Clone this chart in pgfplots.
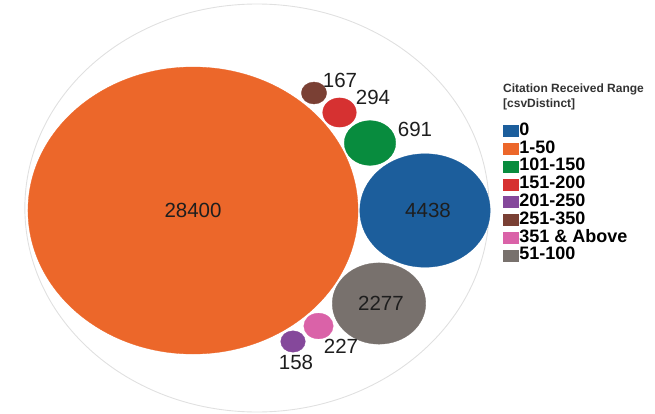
\documentclass[border=0pt]{standalone}
\usepackage{fontspec}
\setmainfont{Liberation Sans}
\usepackage{pgfplots}
\usepackage{pgfplotstable}
\pgfplotsset{compat=1.18}

\definecolor{c0}{HTML}{1C5E9C}
\definecolor{c1}{HTML}{EC672A}
\definecolor{c101}{HTML}{088C3E}
\definecolor{c151}{HTML}{D63131}
\definecolor{c201}{HTML}{85489B}
\definecolor{c251}{HTML}{7A4034}
\definecolor{c351}{HTML}{DA62A8}
\definecolor{c51}{HTML}{78716D}
\definecolor{ring}{HTML}{E0E0E0}
\definecolor{titlegray}{HTML}{333333}
\definecolor{labelgray}{HTML}{1E1E1E}

% one table per category: bubble centre (x,y), count v,
% label offset (dx,dy) in pt from the centre
\pgfplotstableread[row sep=\\]{x y v dx dy\\ 425 202.5 4438 3 0\\}\tZero
\pgfplotstableread[row sep=\\]{x y v dx dy\\ 193 202.5 28400 0 0\\}\tOne
\pgfplotstableread[row sep=\\]{x y v dx dy\\ 370 270 691 45 14\\}\tHundredOne
\pgfplotstableread[row sep=\\]{x y v dx dy\\ 339.5 300.5 294 33.5 15.5\\}\tHundredFiftyOne
\pgfplotstableread[row sep=\\]{x y v dx dy\\ 293 71.5 158 3 -20.5\\}\tTwoHundredOne
\pgfplotstableread[row sep=\\]{x y v dx dy\\ 314 320 167 26 13\\}\tTwoFiftyOne
\pgfplotstableread[row sep=\\]{x y v dx dy\\ 318.5 87 227 22.5 -20\\}\tThreeFiftyOne
\pgfplotstableread[row sep=\\]{x y v dx dy\\ 379 109.5 2277 2 0\\}\tFiftyOne

\pgfplotsset{
  % bubble area proportional to the count
  bubble/.style={
    scatter, only marks, mark=*,
    point meta=\thisrow{v},
    scatter/use mapped color={draw=#1, fill=#1},
    visualization depends on={sqrt(\thisrow{v})*0.8515 \as \rad},
    scatter/@pre marker code/.append style={/tikz/mark size=\rad},
    mark options={xscale=1.15, line width=0.3pt},
    legend image code/.code={\fill[#1] (0pt,-5pt) rectangle (15pt,6pt);},
  },
  % count printed at the bubble, shifted by (dx,dy)
  bubblelabel/.style={
    scatter, only marks, mark=|, mark size=0pt, forget plot,
    mark options={line cap=butt},
    point meta=\thisrow{v},
    visualization depends on={\thisrow{dx} \as \dx},
    visualization depends on={\thisrow{dy} \as \dy},
    nodes near coords={\pgfmathprintnumber[assume math mode=true, fixed, precision=0, 1000 sep={}]{\pgfplotspointmeta}},
    nodes near coords style={anchor=center, inner sep=0pt, xshift=\dx pt, yshift=\dy pt,
      text=labelgray, font=\fontsize{20.5}{24}\selectfont},
  },
}

\begin{document}
\begin{tikzpicture}
\useasboundingbox (0,0) rectangle (655pt,413pt);
\begin{axis}[
  at={(0,0)}, anchor=south west,
  width=655pt, height=413pt, scale only axis,
  xmin=0, xmax=655, ymin=0, ymax=413,
  hide axis, clip=false,
  legend style={at={(axis description cs:0.7679,0.7034)}, anchor=north west,
    draw=none, fill=none, inner sep=0pt, outer sep=0pt,
    row sep=0pt, column sep=1pt, cells={anchor=west},
    nodes={inner sep=0pt, text height=12.8pt, text depth=5pt,
      font=\bfseries\fontsize{18}{18}\selectfont, text=black}},
]
% enclosing circle
\addplot[only marks, mark=o, mark size=204pt, forget plot,
  mark options={draw=ring, line width=0.9pt, xscale=1.138}]
  coordinates {(257,205)};

\addplot[bubble=c0]   table {\tZero};            \addlegendentry{0}
\addplot[bubble=c1]   table {\tOne};             \addlegendentry{1-50}
\addplot[bubble=c101] table {\tHundredOne};      \addlegendentry{101-150}
\addplot[bubble=c151] table {\tHundredFiftyOne}; \addlegendentry{151-200}
\addplot[bubble=c201] table {\tTwoHundredOne};   \addlegendentry{201-250}
\addplot[bubble=c251] table {\tTwoFiftyOne};     \addlegendentry{251-350}
\addplot[bubble=c351] table {\tThreeFiftyOne};   \addlegendentry{351 \& Above}
\addplot[bubble=c51]  table {\tFiftyOne};        \addlegendentry{51-100}

\addplot[bubblelabel] table {\tZero};
\addplot[bubblelabel] table {\tOne};
\addplot[bubblelabel] table {\tHundredOne};
\addplot[bubblelabel] table {\tHundredFiftyOne};
\addplot[bubblelabel] table {\tTwoHundredOne};
\addplot[bubblelabel] table {\tTwoFiftyOne};
\addplot[bubblelabel] table {\tThreeFiftyOne};
\addplot[bubblelabel] table {\tFiftyOne};

\node[anchor=north west, align=left, inner sep=0pt, text=titlegray,
  font=\bfseries\fontsize{12}{15}\selectfont] at (axis cs:503,329.5)
  {Citation Received Range\\{[csvDistinct]}};
\end{axis}
\end{tikzpicture}
\end{document}
